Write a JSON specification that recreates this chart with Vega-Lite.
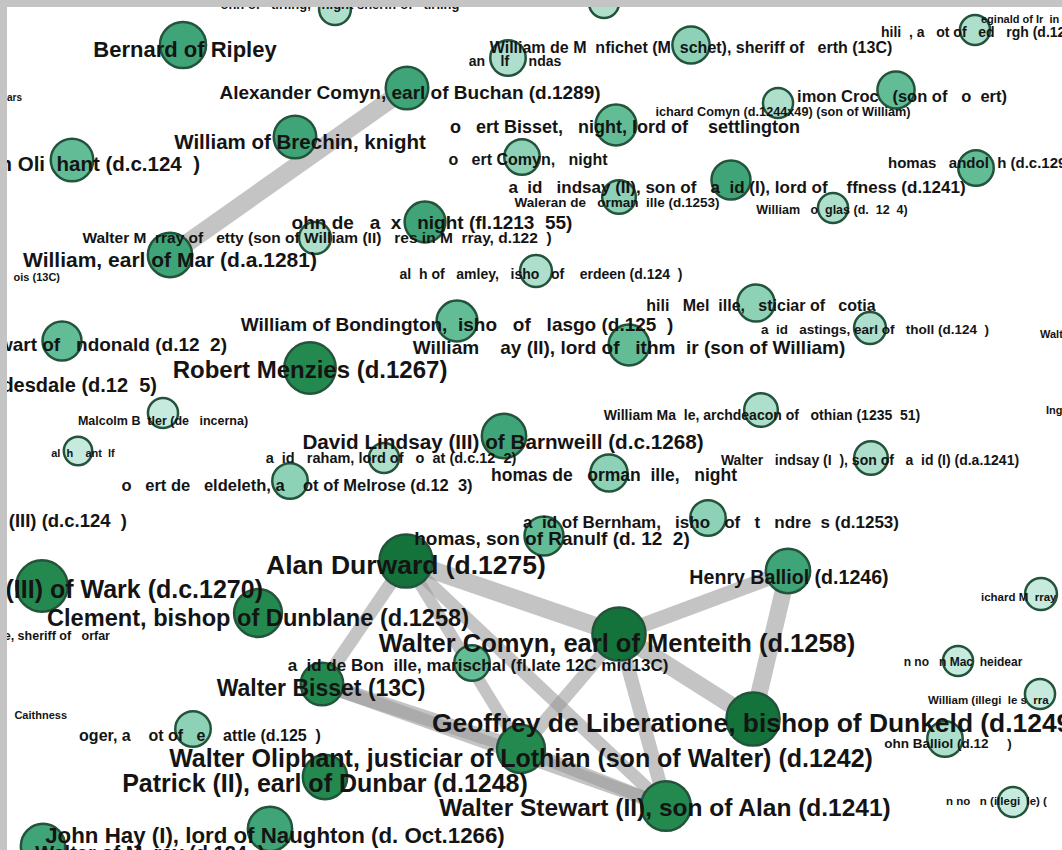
{
  "$schema": "https://vega.github.io/schema/vega-lite/v6.json",
  "width": 1062,
  "height": 850,
  "autosize": {"type": "fit", "contains": "padding"},
  "padding": {"left": 7, "top": 7, "right": 0, "bottom": 0},
  "background": "#c4c4c4",
  "config": {"view": {"stroke": null, "fill": "white"}},
  "resolve": {"scale": {"size": "independent"}},
  "datasets": {
    "nodes": [
      {"id": "n1", "x": 335, "y": 9, "weight": 18, "level": 2},
      {"id": "n2", "x": 604, "y": 3, "weight": 17, "level": 2},
      {"id": "Bernard", "x": 183, "y": 45, "weight": 26, "level": 5},
      {"id": "AlexComyn", "x": 407, "y": 88, "weight": 24, "level": 5},
      {"id": "Brechin", "x": 295, "y": 137, "weight": 24, "level": 5},
      {"id": "OliphantW", "x": 72, "y": 160, "weight": 24, "level": 4},
      {"id": "Montfichet", "x": 691, "y": 45, "weight": 21, "level": 3},
      {"id": "Dundas", "x": 508, "y": 58, "weight": 20, "level": 2},
      {"id": "RBisset", "x": 616, "y": 125, "weight": 23, "level": 4},
      {"id": "RComyn", "x": 522, "y": 157, "weight": 20, "level": 3},
      {"id": "Waleran", "x": 619, "y": 197, "weight": 19, "level": 3},
      {"id": "Reginald", "x": 975, "y": 30, "weight": 17, "level": 2},
      {"id": "Simon", "x": 896, "y": 90, "weight": 21, "level": 4},
      {"id": "RichComyn", "x": 778, "y": 103, "weight": 17, "level": 2},
      {"id": "Randolph", "x": 976, "y": 168, "weight": 20, "level": 4},
      {"id": "DLindsay2", "x": 731, "y": 180, "weight": 22, "level": 5},
      {"id": "Douglas", "x": 833, "y": 208, "weight": 17, "level": 2},
      {"id": "Maxwell", "x": 425, "y": 222, "weight": 23, "level": 5},
      {"id": "n19", "x": 315, "y": 238, "weight": 18, "level": 2},
      {"id": "Mar", "x": 170, "y": 255, "weight": 25, "level": 5},
      {"id": "Dundonald", "x": 62, "y": 341, "weight": 22, "level": 4},
      {"id": "Bondington", "x": 457, "y": 321, "weight": 23, "level": 4},
      {"id": "Menzies", "x": 310, "y": 368, "weight": 29, "level": 6},
      {"id": "Butler", "x": 163, "y": 413, "weight": 17, "level": 1},
      {"id": "Lamley", "x": 536, "y": 271, "weight": 18, "level": 2},
      {"id": "Melville", "x": 756, "y": 303, "weight": 21, "level": 3},
      {"id": "WHay", "x": 629, "y": 345, "weight": 23, "level": 4},
      {"id": "Hastings", "x": 870, "y": 328, "weight": 18, "level": 2},
      {"id": "Mauvle", "x": 761, "y": 410, "weight": 19, "level": 2},
      {"id": "DLindsay3", "x": 504, "y": 436, "weight": 25, "level": 5},
      {"id": "Ralph", "x": 78, "y": 451, "weight": 16, "level": 1},
      {"id": "Graham", "x": 384, "y": 458, "weight": 17, "level": 2},
      {"id": "Keldeleth", "x": 290, "y": 481, "weight": 20, "level": 3},
      {"id": "Normanville", "x": 609, "y": 473, "weight": 21, "level": 3},
      {"id": "WLindsay", "x": 871, "y": 458, "weight": 19, "level": 2},
      {"id": "Wark", "x": 42, "y": 586, "weight": 29, "level": 6},
      {"id": "Clement", "x": 258, "y": 613, "weight": 27, "level": 6},
      {"id": "Durward", "x": 406, "y": 561, "weight": 30, "level": 7},
      {"id": "Bernham", "x": 544, "y": 536, "weight": 22, "level": 4},
      {"id": "n40", "x": 708, "y": 518, "weight": 20, "level": 3},
      {"id": "HBalliol", "x": 788, "y": 571, "weight": 25, "level": 5},
      {"id": "RMurray", "x": 1041, "y": 594, "weight": 18, "level": 1},
      {"id": "WComyn", "x": 619, "y": 634, "weight": 30, "level": 7},
      {"id": "Bonville", "x": 472, "y": 663, "weight": 20, "level": 4},
      {"id": "WBisset", "x": 322, "y": 684, "weight": 24, "level": 6},
      {"id": "Roger", "x": 193, "y": 729, "weight": 20, "level": 3},
      {"id": "WOliphant", "x": 521, "y": 749, "weight": 27, "level": 6},
      {"id": "Patrick", "x": 325, "y": 777, "weight": 25, "level": 6},
      {"id": "JHay", "x": 270, "y": 829, "weight": 25, "level": 5},
      {"id": "n50", "x": 43, "y": 846, "weight": 25, "level": 5},
      {"id": "Geoffrey", "x": 753, "y": 719, "weight": 30, "level": 7},
      {"id": "WStewart", "x": 666, "y": 806, "weight": 28, "level": 6},
      {"id": "MacHeidear", "x": 958, "y": 661, "weight": 17, "level": 1},
      {"id": "WIlleg", "x": 1040, "y": 694, "weight": 17, "level": 1},
      {"id": "JBalliol", "x": 945, "y": 739, "weight": 20, "level": 2},
      {"id": "Illeg2", "x": 1013, "y": 802, "weight": 17, "level": 1}
    ],
    "edges": [
      {"source": "AlexComyn", "target": "Mar", "w": 18},
      {"source": "Durward", "target": "WComyn", "w": 18},
      {"source": "HBalliol", "target": "WComyn", "w": 15},
      {"source": "HBalliol", "target": "Geoffrey", "w": 17},
      {"source": "Durward", "target": "WBisset", "w": 13},
      {"source": "Durward", "target": "WStewart", "w": 13},
      {"source": "Durward", "target": "WOliphant", "w": 12},
      {"source": "WComyn", "target": "WOliphant", "w": 13},
      {"source": "WComyn", "target": "WStewart", "w": 14},
      {"source": "WComyn", "target": "Geoffrey", "w": 17},
      {"source": "WBisset", "target": "WOliphant", "w": 15},
      {"source": "WBisset", "target": "WStewart", "w": 14},
      {"source": "WOliphant", "target": "WStewart", "w": 13}
    ],
    "labels": [
      {"text": "ohn of\u00a0\u00a0\u00a0tirling,\u00a0\u00a0\u00a0night sheriff of\u00a0\u00a0\u00a0tirling", "x": 340, "y": 5, "p": 13, "anchor": "c"},
      {"text": "Bernard of Ripley", "x": 185, "y": 50, "p": 22, "anchor": "c"},
      {"text": "Alexander Comyn, earl of Buchan (d.1289)", "x": 410, "y": 93, "p": 19, "anchor": "c"},
      {"text": "William of Brechin, knight", "x": 300, "y": 143, "p": 20.5, "anchor": "c"},
      {"text": "William de M\u00a0\u00a0nfichet (M\u00a0\u00a0schet), sheriff of\u00a0\u00a0\u00a0erth (13C)", "x": 691, "y": 48, "p": 16, "anchor": "c"},
      {"text": "an\u00a0\u00a0\u00a0\u00a0lf\u00a0\u00a0\u00a0\u00a0\u00a0ndas", "x": 515, "y": 62, "p": 14, "anchor": "c"},
      {"text": "o\u00a0\u00a0\u00a0ert Bisset,\u00a0\u00a0\u00a0night, lord of\u00a0\u00a0\u00a0\u00a0settlington", "x": 625, "y": 128, "p": 18, "anchor": "c"},
      {"text": "o\u00a0\u00a0\u00a0ert Comyn,\u00a0\u00a0\u00a0night", "x": 528, "y": 160, "p": 16, "anchor": "c"},
      {"text": "a\u00a0\u00a0id\u00a0\u00a0\u00a0indsay (II), son of\u00a0\u00a0\u00a0a\u00a0\u00a0id (I), lord of\u00a0\u00a0\u00a0\u00a0ffness (d.1241)", "x": 737, "y": 188, "p": 17, "anchor": "c"},
      {"text": "Waleran de\u00a0\u00a0\u00a0orman\u00a0\u00a0ille (d.1253)", "x": 617, "y": 203, "p": 13.5, "anchor": "c"},
      {"text": "imon Croc\u00a0\u00a0\u00a0(son of\u00a0\u00a0\u00a0o\u00a0\u00a0ert)", "x": 902, "y": 97, "p": 16.5, "anchor": "c"},
      {"text": "ichard Comyn (d.1244x49) (son of William)", "x": 783, "y": 112, "p": 12.7, "anchor": "c"},
      {"text": "William\u00a0\u00a0\u00a0o\u00a0\u00a0glas (d.\u00a0\u00a012\u00a0\u00a04)", "x": 832, "y": 210, "p": 12.5, "anchor": "c"},
      {"text": "Walter M\u00a0\u00a0rray of\u00a0\u00a0\u00a0etty (son of William (II)\u00a0\u00a0\u00a0res in M\u00a0\u00a0rray, d.122\u00a0\u00a0)", "x": 317, "y": 238, "p": 15.5, "anchor": "c"},
      {"text": "ohn de\u00a0\u00a0\u00a0a\u00a0\u00a0x\u00a0\u00a0\u00a0night (fl.1213\u00a0\u00a055)", "x": 432, "y": 223, "p": 19, "anchor": "c"},
      {"text": "William, earl of Mar (d.a.1281)", "x": 170, "y": 261, "p": 21, "anchor": "c"},
      {"text": "William of Bondington,\u00a0\u00a0isho\u00a0\u00a0\u00a0of\u00a0\u00a0\u00a0lasgo (d.125\u00a0\u00a0)", "x": 457, "y": 325, "p": 19, "anchor": "c"},
      {"text": "Robert Menzies (d.1267)", "x": 310, "y": 371, "p": 24, "anchor": "c"},
      {"text": "Malcolm B\u00a0\u00a0tler (de\u00a0\u00a0\u00a0incerna)", "x": 163, "y": 421, "p": 12.5, "anchor": "c"},
      {"text": "al\u00a0\u00a0h of\u00a0\u00a0\u00a0amley,\u00a0\u00a0\u00a0isho\u00a0\u00a0\u00a0of\u00a0\u00a0\u00a0\u00a0erdeen (d.124\u00a0\u00a0)", "x": 541, "y": 275, "p": 14, "anchor": "c"},
      {"text": "hili\u00a0\u00a0\u00a0Mel\u00a0\u00a0ille,\u00a0\u00a0\u00a0sticiar of\u00a0\u00a0\u00a0cotia", "x": 761, "y": 306, "p": 16, "anchor": "c"},
      {"text": "William\u00a0\u00a0\u00a0\u00a0ay (II), lord of\u00a0\u00a0\u00a0ithm\u00a0\u00a0ir (son of William)", "x": 629, "y": 348, "p": 19, "anchor": "c"},
      {"text": "a\u00a0\u00a0id\u00a0\u00a0\u00a0astings, earl of\u00a0\u00a0\u00a0tholl (d.124\u00a0\u00a0)", "x": 875, "y": 330, "p": 13.5, "anchor": "c"},
      {"text": "William Ma\u00a0\u00a0le, archdeacon of\u00a0\u00a0\u00a0othian (1235\u00a0\u00a051)", "x": 762, "y": 416, "p": 14, "anchor": "c"},
      {"text": "al\u00a0\u00a0h\u00a0\u00a0\u00a0\u00a0ant\u00a0\u00a0lf", "x": 83, "y": 454, "p": 11, "anchor": "c"},
      {"text": "David Lindsay (III) of Barnweill (d.c.1268)", "x": 503, "y": 443, "p": 20.7, "anchor": "c"},
      {"text": "a\u00a0\u00a0id\u00a0\u00a0\u00a0raham, lord of\u00a0\u00a0\u00a0o\u00a0\u00a0at (d.c.12\u00a0\u00a02)", "x": 391, "y": 459, "p": 14.5, "anchor": "c"},
      {"text": "o\u00a0\u00a0\u00a0ert de\u00a0\u00a0\u00a0eldeleth, a\u00a0\u00a0\u00a0\u00a0ot of Melrose (d.12\u00a0\u00a03)", "x": 297, "y": 486, "p": 16.5, "anchor": "c"},
      {"text": "homas de\u00a0\u00a0\u00a0orman\u00a0\u00a0ille,\u00a0\u00a0\u00a0night", "x": 614, "y": 476, "p": 17.5, "anchor": "c"},
      {"text": "Walter\u00a0\u00a0\u00a0indsay (I\u00a0\u00a0), son of\u00a0\u00a0\u00a0a\u00a0\u00a0id (I) (d.a.1241)", "x": 870, "y": 461, "p": 14, "anchor": "c"},
      {"text": "a\u00a0\u00a0id of Bernham,\u00a0\u00a0\u00a0isho\u00a0\u00a0\u00a0of\u00a0\u00a0\u00a0t\u00a0\u00a0\u00a0ndre\u00a0\u00a0s (d.1253)", "x": 711, "y": 523, "p": 17, "anchor": "c"},
      {"text": "homas, son of Ranulf (d. 12\u00a0\u00a02)", "x": 552, "y": 539, "p": 19, "anchor": "c"},
      {"text": "Alan Durward (d.1275)", "x": 406, "y": 566, "p": 26.5, "anchor": "c"},
      {"text": "Henry Balliol (d.1246)", "x": 789, "y": 578, "p": 19.6, "anchor": "c"},
      {"text": "Clement, bishop of Dunblane (d.1258)", "x": 258, "y": 619, "p": 23.6, "anchor": "c"},
      {"text": "Walter Comyn, earl of Menteith (d.1258)", "x": 617, "y": 644, "p": 25.5, "anchor": "c"},
      {"text": "a\u00a0\u00a0id de Bon\u00a0\u00a0ille, marischal (fl.late 12C mid13C)", "x": 478, "y": 666, "p": 17, "anchor": "c"},
      {"text": "Walter Bisset (13C)", "x": 321, "y": 689, "p": 23, "anchor": "c"},
      {"text": "n no\u00a0\u00a0\u00a0n Mac\u00a0\u00a0heidear", "x": 963, "y": 662, "p": 12, "anchor": "c"},
      {"text": "oger, a\u00a0\u00a0\u00a0\u00a0ot of\u00a0\u00a0\u00a0e\u00a0\u00a0\u00a0\u00a0attle (d.125\u00a0\u00a0)", "x": 200, "y": 736, "p": 16, "anchor": "c"},
      {"text": "Geoffrey de Liberatione, bishop of Dunkeld (d.1249)", "x": 756, "y": 724, "p": 26.4, "anchor": "c"},
      {"text": "ohn Balliol (d.12\u00a0\u00a0\u00a0\u00a0\u00a0)", "x": 948, "y": 744, "p": 13.5, "anchor": "c"},
      {"text": "Walter Oliphant, justiciar of Lothian (son of Walter) (d.1242)", "x": 521, "y": 759, "p": 25, "anchor": "c"},
      {"text": "Patrick (II), earl of Dunbar (d.1248)", "x": 325, "y": 784, "p": 25, "anchor": "c"},
      {"text": "Walter Stewart (II), son of Alan (d.1241)", "x": 665, "y": 809, "p": 24.5, "anchor": "c"},
      {"text": "John Hay (I), lord of Naughton (d. Oct.1266)", "x": 275, "y": 836, "p": 22.3, "anchor": "c"},
      {"text": "Walter of M\u00a0\u00a0ray (d.124\u00a0\u00a0)", "x": 150, "y": 854, "p": 20, "anchor": "c"},
      {"text": "eginald of Ir\u00a0\u00a0in", "x": 981, "y": 20, "p": 11, "anchor": "l"},
      {"text": "hili\u00a0\u00a0, a\u00a0\u00a0\u00a0ot of\u00a0\u00a0\u00a0ed\u00a0\u00a0\u00a0rgh (d.12", "x": 881, "y": 33, "p": 14, "anchor": "l"},
      {"text": "homas\u00a0\u00a0\u00a0andol\u00a0\u00a0h (d.c.129", "x": 888, "y": 163, "p": 15, "anchor": "l"},
      {"text": "Walte", "x": 1040, "y": 335, "p": 11, "anchor": "l"},
      {"text": "Ingr", "x": 1046, "y": 411, "p": 11, "anchor": "l"},
      {"text": "ichard M\u00a0\u00a0rray", "x": 981, "y": 598, "p": 11.5, "anchor": "l"},
      {"text": "William (illegi\u00a0\u00a0le s\u00a0\u00a0rra", "x": 928, "y": 701, "p": 11.5, "anchor": "l"},
      {"text": "n no\u00a0\u00a0\u00a0n (illegi\u00a0\u00a0le) (", "x": 946, "y": 802, "p": 11.5, "anchor": "l"},
      {"text": "ars", "x": 22, "y": 98, "p": 10, "anchor": "r"},
      {"text": "William Oli\u00a0\u00a0hant (d.c.124\u00a0\u00a0)", "x": 200, "y": 165, "p": 20.5, "anchor": "r"},
      {"text": "ois (13C)", "x": 60, "y": 278, "p": 11, "anchor": "r"},
      {"text": "Alexander Stewart of\u00a0\u00a0\u00a0ndonald (d.12\u00a0\u00a02)", "x": 227, "y": 345, "p": 19, "anchor": "r"},
      {"text": "Liddesdale (d.12\u00a0\u00a05)", "x": 157, "y": 386, "p": 20, "anchor": "r"},
      {"text": "Walter (III) (d.c.124\u00a0\u00a0)", "x": 127, "y": 521, "p": 18.5, "anchor": "r"},
      {"text": "Robert de Ros (III) of Wark (d.c.1270)", "x": 263, "y": 590, "p": 25, "anchor": "r"},
      {"text": "e, sheriff of\u00a0\u00a0\u00a0orfar", "x": 110, "y": 636, "p": 12.5, "anchor": "r"},
      {"text": "Caithness", "x": 67, "y": 716, "p": 11, "anchor": "r"}
    ]
  },
  "layer": [
    {
      "data": {"name": "edges"},
      "transform": [
        {"lookup": "source", "from": {"data": {"name": "nodes"}, "key": "id", "fields": ["x", "y"]}, "as": ["sx", "sy"]},
        {"lookup": "target", "from": {"data": {"name": "nodes"}, "key": "id", "fields": ["x", "y"]}, "as": ["tx", "ty"]}
      ],
      "mark": {"type": "rule", "color": "#9a9a9a", "opacity": 0.58, "strokeCap": "butt", "clip": true},
      "encoding": {
        "x": {"field": "sx", "type": "quantitative", "scale": {"domain": [7, 1062], "nice": false, "zero": false}, "axis": null},
        "y": {"field": "sy", "type": "quantitative", "scale": {"domain": [7, 850], "nice": false, "zero": false, "reverse": true}, "axis": null},
        "x2": {"field": "tx"},
        "y2": {"field": "ty"},
        "strokeWidth": {"field": "w", "type": "quantitative", "scale": {"domain": [0, 20], "range": [0, 20]}, "legend": null}
      }
    },
    {
      "data": {"name": "nodes"},
      "mark": {"type": "circle", "clip": true, "opacity": 1, "stroke": "#23543b", "strokeWidth": 2.5},
      "encoding": {
        "x": {"field": "x", "type": "quantitative", "scale": {"domain": [7, 1062], "nice": false, "zero": false}, "axis": null},
        "y": {"field": "y", "type": "quantitative", "scale": {"domain": [7, 850], "nice": false, "zero": false, "reverse": true}, "axis": null},
        "size": {"field": "weight", "type": "quantitative", "scale": {"type": "pow", "exponent": 2, "domain": [0, 30], "range": [0, 2827]}, "legend": null},
        "color": {"field": "level", "type": "ordinal", "scale": {"domain": [1, 2, 3, 4, 5, 6, 7], "range": ["#c6ebde", "#addfcc", "#8dd2b6", "#62bd97", "#3fa477", "#24894f", "#13733b"]}, "legend": null}
      }
    },
    {
      "data": {"name": "labels"},
      "transform": [{"filter": "datum.anchor === 'c'"}],
      "mark": {"type": "text", "align": "center", "baseline": "middle", "font": "Liberation Sans", "fontWeight": "bold", "color": "#141414", "clip": true},
      "encoding": {
        "x": {"field": "x", "type": "quantitative", "scale": {"domain": [7, 1062], "nice": false, "zero": false}, "axis": null},
        "y": {"field": "y", "type": "quantitative", "scale": {"domain": [7, 850], "nice": false, "zero": false, "reverse": true}, "axis": null},
        "text": {"field": "text"},
        "size": {"field": "p", "type": "quantitative", "scale": {"domain": [10, 26], "range": [10, 26]}, "legend": null}
      }
    },
    {
      "data": {"name": "labels"},
      "transform": [{"filter": "datum.anchor === 'l'"}],
      "mark": {"type": "text", "align": "left", "baseline": "middle", "font": "Liberation Sans", "fontWeight": "bold", "color": "#141414", "clip": true},
      "encoding": {
        "x": {"field": "x", "type": "quantitative", "scale": {"domain": [7, 1062], "nice": false, "zero": false}, "axis": null},
        "y": {"field": "y", "type": "quantitative", "scale": {"domain": [7, 850], "nice": false, "zero": false, "reverse": true}, "axis": null},
        "text": {"field": "text"},
        "size": {"field": "p", "type": "quantitative", "scale": {"domain": [10, 26], "range": [10, 26]}, "legend": null}
      }
    },
    {
      "data": {"name": "labels"},
      "transform": [{"filter": "datum.anchor === 'r'"}],
      "mark": {"type": "text", "align": "right", "baseline": "middle", "font": "Liberation Sans", "fontWeight": "bold", "color": "#141414", "clip": true},
      "encoding": {
        "x": {"field": "x", "type": "quantitative", "scale": {"domain": [7, 1062], "nice": false, "zero": false}, "axis": null},
        "y": {"field": "y", "type": "quantitative", "scale": {"domain": [7, 850], "nice": false, "zero": false, "reverse": true}, "axis": null},
        "text": {"field": "text"},
        "size": {"field": "p", "type": "quantitative", "scale": {"domain": [10, 26], "range": [10, 26]}, "legend": null}
      }
    }
  ]
}
